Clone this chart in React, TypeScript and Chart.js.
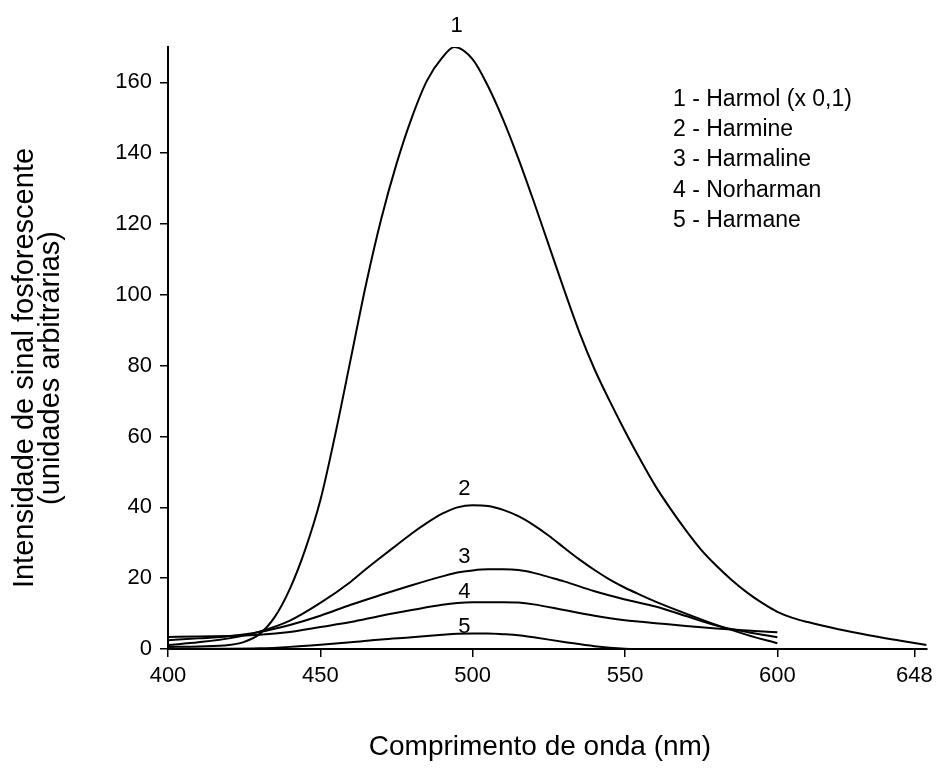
import React, { useEffect, useRef } from 'react';
import { Chart, registerables } from 'chart.js';

Chart.register(...registerables);

// ---- data ----
const harmolX = [400, 410, 420, 425, 430, 435, 440, 445, 450, 455, 460, 465, 470, 475, 480, 485, 490, 494, 500, 505, 510, 515, 520, 525, 530, 535, 540, 545, 550, 555, 560, 565, 570, 575, 580, 585, 590, 595, 600, 605, 610, 620, 630, 640, 649];
const harmolY = [0.6, 0.7, 1.1, 2.0, 4.2, 9.0, 17, 28, 42, 61, 82, 103, 121.5, 137, 150, 160.5, 167, 170, 166.5, 159, 149.5, 138.5, 126.5, 114, 101.5, 89.5, 79, 70, 61.5, 53.5, 46, 39.5, 33.5, 28, 23.5, 19.5, 16, 13, 10.5, 8.8, 7.6, 5.6, 3.9, 2.4, 1.1];

const harmineX = [400, 410, 420, 430, 440, 450, 460, 465, 470, 475, 480, 485, 490, 495, 500, 505, 510, 515, 520, 525, 530, 535, 540, 545, 550, 555, 560, 570, 580, 590, 600];
const harmineY = [1.1, 1.9, 3.0, 4.9, 8.0, 13, 19, 22.6, 26, 29.3, 32.6, 35.6, 38.2, 40, 40.6, 40.4, 39.3, 37.5, 35, 32, 28.6, 25.3, 22.3, 19.6, 17.3, 15.3, 13.4, 10, 6.8, 4.0, 1.6];

const harmalineX = [400, 410, 420, 430, 440, 450, 460, 470, 480, 490, 495, 500, 505, 510, 515, 520, 525, 530, 540, 550, 560, 570, 580, 590, 600];
const harmalineY = [2.5, 3.0, 3.6, 4.8, 6.8, 9.4, 12.5, 15.3, 18.0, 20.5, 21.6, 22.2, 22.5, 22.5, 22.3, 21.5, 20.3, 19.1, 16.3, 14.0, 12.0, 9.3, 6.6, 4.8, 3.3];

const norharmanX = [400, 410, 420, 430, 440, 450, 460, 470, 480, 490, 495, 500, 510, 515, 520, 530, 540, 550, 555, 560, 570, 580, 590, 600];
const norharmanY = [3.4, 3.5, 3.7, 4.0, 4.8, 6.2, 7.6, 9.4, 11.0, 12.5, 13.0, 13.2, 13.2, 13.1, 12.6, 11.0, 9.4, 8.1, 7.7, 7.3, 6.5, 5.8, 5.2, 4.7];

const harmaneX = [400, 410, 420, 430, 440, 450, 460, 470, 480, 490, 495, 500, 505, 510, 515, 520, 530, 540, 550, 555];
const harmaneY = [0.1, 0.1, 0.1, 0.2, 0.6, 1.2, 1.9, 2.7, 3.3, 4.0, 4.3, 4.4, 4.4, 4.2, 3.9, 3.3, 2.0, 0.8, 0.1, 0];

const seriesNames = ['1 - Harmol (x 0,1)', '2 - Harmine', '3 - Harmaline', '4 - Norharman', '5 - Harmane'];
const curveLabels = ['1', '2', '3', '4', '5'];
const curveLabelX = [494.7, 497.3, 497.3, 497.3, 497.3];
const curveLabelY = [174.3, 43.5, 24.3, 14.4, 4.5];

const xTickValues = [400, 450, 500, 550, 600, 645];
const xTickLabels = ['400', '450', '500', '550', '600', '648'];
const yTickValues = [0, 20, 40, 60, 80, 100, 120, 140, 160];

const yTitle = ['Intensidade de sinal fosforescente', '(unidades arbitrárias)'];
const xTitle = 'Comprimento de onda (nm)';

const FONT = '"Liberation Sans", Arial, Helvetica, sans-serif';

function toPoints(xs: number[], ys: number[]) {
  return xs.map((x, i) => ({ x, y: ys[i] }));
}

const annotPlugin = {
  id: 'annot',
  afterDraw(chart: any) {
    const ctx = chart.ctx as CanvasRenderingContext2D;
    const xs = chart.scales.x;
    const ys = chart.scales.y;
    ctx.save();
    ctx.fillStyle = '#000';
    // curve number labels
    ctx.font = `22px ${FONT}`;
    ctx.textAlign = 'center';
    ctx.textBaseline = 'alphabetic';
    curveLabels.forEach((t, i) => {
      ctx.fillText(t, xs.getPixelForValue(curveLabelX[i]), ys.getPixelForValue(curveLabelY[i]));
    });
    // legend text
    ctx.font = `23px ${FONT}`;
    ctx.textAlign = 'left';
    seriesNames.forEach((t, i) => {
      ctx.fillText(t, 673, 106 + i * 30.2);
    });
    // x title
    ctx.font = `28px ${FONT}`;
    ctx.textAlign = 'center';
    ctx.fillText(xTitle, 540, 755);
    // y title
    ctx.font = `29px ${FONT}`;
    ctx.translate(0, 368);
    ctx.rotate(-Math.PI / 2);
    ctx.fillText(yTitle[0], 0, 33);
    ctx.fillText(yTitle[1], 0, 59);
    ctx.restore();
  },
};

export default function App() {
  const ref = useRef<HTMLCanvasElement | null>(null);
  useEffect(() => {
    if (!ref.current) return;
    const line = (xs: number[], ys: number[], label: string) => ({
      label,
      data: toPoints(xs, ys),
      borderColor: '#000',
      backgroundColor: '#000',
      borderWidth: 2,
      pointRadius: 0,
      fill: false,
      cubicInterpolationMode: 'monotone' as const,
    });
    const chart = new Chart(ref.current, {
      type: 'line',
      data: {
        datasets: [
          line(harmolX, harmolY, seriesNames[0]),
          line(harmineX, harmineY, seriesNames[1]),
          line(harmalineX, harmalineY, seriesNames[2]),
          line(norharmanX, norharmanY, seriesNames[3]),
          line(harmaneX, harmaneY, seriesNames[4]),
        ],
      },
      options: {
        animation: false,
        responsive: false,
        devicePixelRatio: 1,
        layout: { padding: { top: 47, right: 12, left: 0, bottom: 0 } },
        plugins: {
          legend: { display: false },
          title: { display: false },
          tooltip: { enabled: false },
        },
        scales: {
          x: {
            type: 'linear',
            min: 400,
            max: 649,
            afterBuildTicks: (s: any) => {
              s.ticks = xTickValues.map((v) => ({ value: v }));
            },
            afterFit: (s: any) => {
              s.height = 124;
            },
            ticks: {
              callback: (_v: any, i: number) => xTickLabels[i],
              font: { size: 22, family: FONT },
              color: '#000',
              padding: 6,
              maxRotation: 0,
              autoSkip: false,
            },
            grid: { display: true, drawOnChartArea: false, drawTicks: true, tickLength: 8, color: '#000', lineWidth: 1.5 },
            border: { display: true, color: '#000', width: 2 },
          },
          y: {
            type: 'linear',
            min: 0,
            max: 170,
            afterBuildTicks: (s: any) => {
              s.ticks = yTickValues.map((v) => ({ value: v }));
            },
            afterFit: (s: any) => {
              s.width = 168;
            },
            ticks: {
              font: { size: 22, family: FONT },
              color: '#000',
              padding: 8,
              autoSkip: false,
            },
            grid: { display: true, drawOnChartArea: false, drawTicks: true, tickLength: 8, color: '#000', lineWidth: 1.5 },
            border: { display: true, color: '#000', width: 2 },
          },
        },
      },
      plugins: [annotPlugin],
    });
    return () => chart.destroy();
  }, []);
  return (
    <div style={{ position: 'fixed', left: 0, top: 0, width: 939, height: 773, background: '#fff' }}>
      <canvas ref={ref} width={939} height={773} style={{ display: 'block' }} />
    </div>
  );
}
